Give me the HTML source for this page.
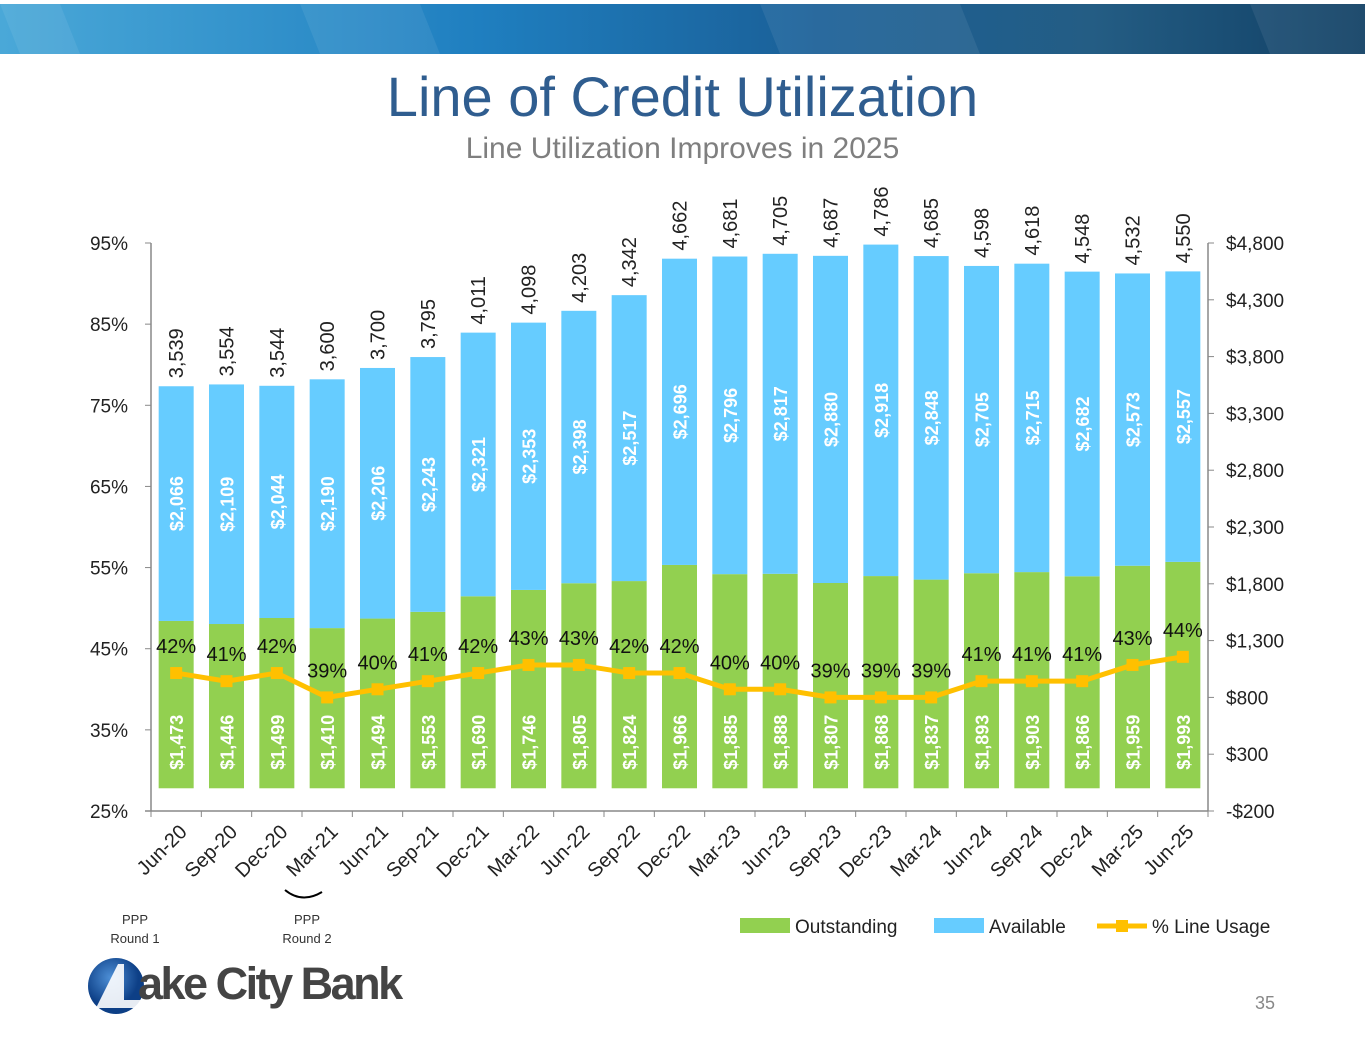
<!DOCTYPE html>
<html><head><meta charset="utf-8"><style>
body{margin:0;width:1365px;height:1055px;background:#fff;font-family:"Liberation Sans",sans-serif;overflow:hidden;position:relative}
.banner{position:absolute;left:0;top:4px;width:1365px;height:50px;background:linear-gradient(90deg,#4aa8d8 0%,#1f7fc0 35%,#1a5f97 60%,#245d84 80%,#103f64 100%)}
.t{position:absolute;width:1365px;text-align:center}
</style></head><body>
<div class="banner">
<svg width="1365" height="50" style="position:absolute;left:0;top:0"><g fill="#fff" opacity="0.07"><polygon points="0,0 60,0 80,50 20,50"/><polygon points="300,0 420,0 440,50 320,50"/><polygon points="760,0 960,0 980,50 780,50"/><polygon points="1250,0 1365,0 1365,50 1270,50"/></g></svg>
</div>
<div class="t" style="top:64px;font-size:56px;color:#2f5d8f">Line of Credit Utilization</div>
<div class="t" style="top:132px;font-size:30px;color:#7f7f7f">Line Utilization Improves in 2025</div>
<svg id="chart" width="1365" height="1055" style="position:absolute;left:0;top:0" font-family="Liberation Sans, sans-serif"></svg>
<div style="position:absolute;left:100px;top:910px;width:70px;text-align:center;font-size:13px;color:#333;line-height:19px">PPP<br>Round 1</div>
<div style="position:absolute;left:272px;top:910px;width:70px;text-align:center;font-size:13px;color:#333;line-height:19px">PPP<br>Round 2</div>
<svg width="60" height="30" style="position:absolute;left:280px;top:882px"><path d="M5,8 Q22,22 42,10" stroke="#000" stroke-width="2" fill="none"/></svg>
<div style="position:absolute;left:88px;top:956px;height:60px">
<svg width="60" height="60" style="position:absolute;left:0;top:0"><defs><radialGradient id="lg" cx="0.4" cy="0.35"><stop offset="0" stop-color="#4d8fd6"/><stop offset="1" stop-color="#0d3f86"/></radialGradient></defs><circle cx="28" cy="30" r="28" fill="url(#lg)"/><polygon points="8,52 30,8 36,8 36,44 56,44 56,52" fill="#fff" opacity="0.9"/></svg>
<span style="position:absolute;left:50px;top:2px;font-size:45px;font-weight:bold;color:#444;letter-spacing:-2.5px;white-space:nowrap">ake City Bank</span></div>
<div style="position:absolute;left:1255px;top:993px;font-size:18px;color:#888">35</div>
<script>
const categories=["Jun-20","Sep-20","Dec-20","Mar-21","Jun-21","Sep-21","Dec-21","Mar-22","Jun-22","Sep-22","Dec-22","Mar-23","Jun-23","Sep-23","Dec-23","Mar-24","Jun-24","Sep-24","Dec-24","Mar-25","Jun-25"];
const outstanding=[1473,1446,1499,1410,1494,1553,1690,1746,1805,1824,1966,1885,1888,1807,1868,1837,1893,1903,1866,1959,1993];
const available=[2066,2109,2044,2190,2206,2243,2321,2353,2398,2517,2696,2796,2817,2880,2918,2848,2705,2715,2682,2573,2557];
const totals=[3539,3554,3544,3600,3700,3795,4011,4098,4203,4342,4662,4681,4705,4687,4786,4685,4598,4618,4548,4532,4550];
const usage=[42,41,42,39,40,41,42,43,43,42,42,40,40,39,39,39,41,41,41,43,44];
const leftTicks=[25,35,45,55,65,75,85,95];
const rightTicks=[-200,300,800,1300,1800,2300,2800,3300,3800,4300,4800];
const svg=document.getElementById('chart');
const NS='http://www.w3.org/2000/svg';
const X0=151,X1=1208,YB=811,YT=243;
const pitch=(X1-X0)/categories.length;
const xc=i=>X0+pitch*(i+0.5);
const yL=v=>YB-(v-25)/70*(YB-YT);
const yR=v=>YB-(v+200)/5000*(YB-YT);
function mk(tag,at,txt){const e=document.createElementNS(NS,tag);for(const k in at)e.setAttribute(k,at[k]);if(txt!==undefined)e.textContent=txt;svg.appendChild(e);return e;}
let e;
e=mk('line',{x1:X0,y1:YT,x2:X0,y2:YB,stroke:'#888','stroke-width':1.5});


e=mk('line',{x1:X1,y1:YT,x2:X1,y2:YB,stroke:'#888','stroke-width':1.5});


e=mk('line',{x1:X0-6,y1:YB,x2:X1,y2:YB,stroke:'#888','stroke-width':1.5});


leftTicks.forEach(v=>{const y=yL(v);mk('line',{x1:X0-6,y1:y,x2:X0,y2:y,stroke:'#888'});
e=mk('text',{x:128,y:y+7,'text-anchor':'end','font-size':19,fill:'#222'},v+'%');

});
rightTicks.forEach(v=>{const y=yR(v);mk('line',{x1:X1,y1:y,x2:X1+6,y2:y,stroke:'#888'});
const s=(v<0?'-$':'$')+Math.abs(v).toLocaleString('en-US');
e=mk('text',{x:1226,y:y+7,'font-size':19,fill:'#222'},s);

});
for(let i=0;i<=categories.length;i++){const x=X0+pitch*i;mk('line',{x1:x,y1:YB,x2:x,y2:YB+6,stroke:'#888'});}
const bw=35;
categories.forEach((c,i)=>{
 const x=xc(i);const y0=yR(0),yo=yR(outstanding[i]),yt=yR(outstanding[i]+available[i]);
 e=mk('rect',{x:x-bw/2,y:yo,width:bw,height:y0-yo,fill:'#92d050'});
 
 
 e=mk('rect',{x:x-bw/2,y:yt,width:bw,height:yo-yt,fill:'#66ccff'});
 
 
 e=mk('text',{x:0,y:0,transform:`translate(${x+7},${y0-46}) rotate(-90)`,'text-anchor':'middle','font-size':18,'font-weight':'bold',fill:'#fff'},'$'+outstanding[i].toLocaleString('en-US'));
 
 
 e=mk('text',{x:0,y:0,transform:`translate(${x+7},${(yo+yt)/2}) rotate(-90)`,'text-anchor':'middle','font-size':18,'font-weight':'bold',fill:'#fff'},'$'+available[i].toLocaleString('en-US'));
 
 
 e=mk('text',{x:0,y:0,transform:`translate(${x+7},${yt-8}) rotate(-90)`,'font-size':20,fill:'#222'},totals[i].toLocaleString('en-US'));
 
 
 e=mk('text',{x:0,y:0,transform:`translate(${x+12},${YB+22}) rotate(-45)`,'text-anchor':'end','font-size':20,fill:'#222'},c);
 
 
});
e=mk('polyline',{points:usage.map((v,i)=>xc(i)+','+yL(v)).join(' '),fill:'none',stroke:'#ffc000','stroke-width':5});


usage.forEach((v,i)=>{
 e=mk('rect',{x:xc(i)-6,y:yL(v)-6,width:12,height:12,fill:'#ffc000'});
 
 
 e=mk('text',{x:xc(i),y:yL(v)-20,'text-anchor':'middle','font-size':20,fill:'#111'},v+'%');
 
 
});
e=mk('rect',{x:740,y:918,width:50,height:15,fill:'#92d050'});


e=mk('text',{x:795,y:933,'font-size':19,fill:'#222'},'Outstanding');


e=mk('rect',{x:934,y:918,width:50,height:15,fill:'#66ccff'});


e=mk('text',{x:989,y:933,'font-size':19,fill:'#222'},'Available');


e=mk('line',{x1:1097,y1:926,x2:1147,y2:926,stroke:'#ffc000','stroke-width':5});


e=mk('rect',{x:1116,y:920,width:12,height:12,fill:'#ffc000'});


e=mk('text',{x:1152,y:933,'font-size':19,fill:'#222'},'% Line Usage');


</script>
</body></html>
